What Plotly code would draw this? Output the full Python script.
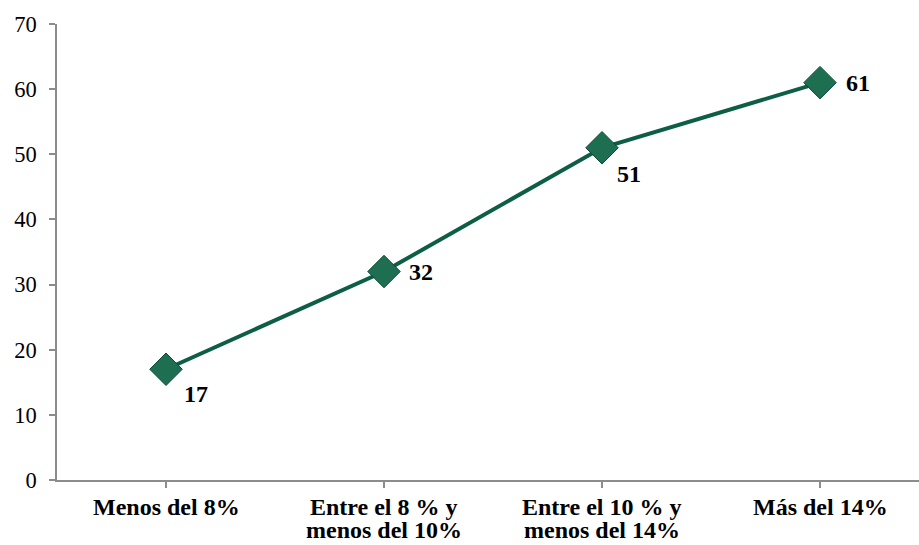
import plotly.graph_objects as go

# Rate bands and their values
categories = ["Menos del 8%", "Entre el 8 % y<br>menos del 10%",
              "Entre el 10 % y<br>menos del 14%", "Más del 14%"]
values = [17, 32, 51, 61]
y_ticks = [0, 10, 20, 30, 40, 50, 60, 70]

# Label offsets (pixels) for each value label
label_dx = [30, 37, 27, 38]
label_dy = [-25, 0, -26, 0]

LINE_GREEN = "#0d5e45"
MARKER_GREEN = "#1e6e52"
AXIS_GREY = "#8c8c8c"
FONT = "Liberation Serif, Times New Roman, serif"
CAT_SIZE = 24
CAT_LINE_GAP = 23  # px between the lines of a wrapped category label

fig = go.Figure()
fig.add_trace(go.Scatter(
    x=list(range(len(categories))),
    y=values,
    mode="lines+markers",
    line=dict(color=LINE_GREEN, width=4),
    marker=dict(symbol="diamond", size=25, color=MARKER_GREEN,
                line=dict(color="#0b4a36", width=1)),
    hoverinfo="skip",
))

# Value labels next to each point
for i, v in enumerate(values):
    fig.add_annotation(x=i, y=v, text=f"<b>{v}</b>", showarrow=False,
                       xshift=label_dx[i], yshift=label_dy[i],
                       font=dict(family=FONT, size=24, color="black"))

# Category labels under the axis, one annotation per line so the
# line spacing can be kept tight
for i, cat in enumerate(categories):
    for j, part in enumerate(cat.split("<br>")):
        fig.add_annotation(x=i, xref="x", y=0, yref="paper",
                           text=f"<b>{part}</b>", showarrow=False,
                           yanchor="middle", yshift=-27 - j * CAT_LINE_GAP,
                           font=dict(family=FONT, size=CAT_SIZE, color="black"))

fig.update_layout(
    width=919, height=545,
    margin=dict(l=57, r=0, t=24, b=65, autoexpand=False),
    plot_bgcolor="white", paper_bgcolor="white",
    showlegend=False,
    font=dict(family=FONT, color="black"),
    xaxis=dict(
        range=[-0.5, 3.454],
        tickmode="array",
        tickvals=list(range(len(categories))),
        ticktext=["" for _ in categories],
        showgrid=False, zeroline=False,
        showline=True, linecolor=AXIS_GREY, linewidth=1.5,
        ticks="outside", ticklen=6, tickcolor=AXIS_GREY, tickwidth=1.5,
        tickson="boundaries",
        automargin=False,
        fixedrange=True,
    ),
    yaxis=dict(
        range=[0, 70],
        tickmode="array", tickvals=y_ticks,
        tickfont=dict(family=FONT, size=22.5, color="black"),
        showgrid=False, zeroline=False,
        showline=True, linecolor=AXIS_GREY, linewidth=1.5,
        ticks="outside", ticklen=6, tickcolor=AXIS_GREY, tickwidth=1.5,
        ticklabelstandoff=8,
        automargin=False,
        fixedrange=True,
    ),
)

fig.write_html("out.html")
